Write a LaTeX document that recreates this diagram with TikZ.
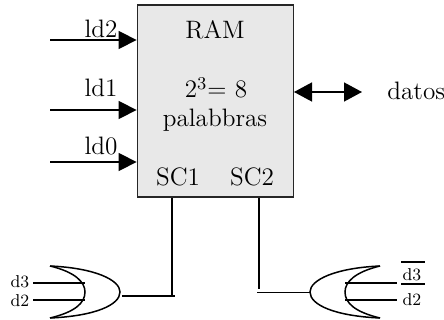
\documentclass[tikz,border=0pt]{standalone}
\usetikzlibrary{arrows.meta}

\begin{document}
\begin{tikzpicture}[
  x=0.5pt, y=-0.5pt,
  lbl/.style={font=\fontsize{12.6}{14}\selectfont, anchor=base, inner sep=0pt},
  sml/.style={font=\fontsize{8.6}{10}\selectfont, anchor=base, inner sep=0pt},
  ram/.style={draw=black!85, fill=black!9, line width=0.7pt, minimum width=78pt, minimum height=96pt, inner sep=0pt},
  inh/.style={-{Triangle[length=9pt,width=9pt]}, line width=0.7pt},
  bus/.style={{Triangle[length=9pt,width=9.5pt]}-{Triangle[length=9pt,width=9.5pt]}, line width=0.7pt},
  wire/.style={-, line width=0.7pt},
  gate/.style={line width=0.75pt},
]
\useasboundingbox (0,0) rectangle (444,320);

% RAM block
\node[ram] (mem) at (215.3,101) {};
\node[lbl] (title) at (215,39) {RAM};
\node[lbl] (size) at (216,98) {2$^3$= 8};
\node[lbl] (words) at (215,127) {palabbras};
\node[lbl] (sc1) at (178,186) {SC1};
\node[lbl] (sc2) at (252,186) {SC2};

% Address lines
\node[lbl] (ld2) at (101,38) {ld2};
\node[lbl] (ld1) at (101,97) {ld1};
\node[lbl] (ld0) at (101,155) {ld0};
\coordinate (in2) at (50,40);
\coordinate (in1) at (50,110);
\coordinate (in0) at (50,162);
\foreach \n in {in2,in1,in0}
  \draw[inh] (\n) -- (\n -| mem.west);

% Data bus
\node[lbl, anchor=base west] (datos) at (387,100) {datos};
\coordinate (busend) at (362,92);
\draw[bus] (busend -| mem.east) -- (busend);

% Left gate
\draw[gate] (50,266) .. controls (95,268) and (120,280) .. (120,292)
  .. controls (120,305) and (95,316) .. (50,318);
\draw[gate] (50,266) .. controls (75,272) and (85,282) .. (85,292)
  .. controls (85,303) and (75,312) .. (50,318);
\coordinate (lout) at (122,296);
\coordinate (lend) at (175,296);
\coordinate (la) at (85,283);
\coordinate (lb) at (85,300);
\node[sml] (d3l) at (20,287) {d3};
\node[sml] (d2l) at (20,306) {d2};
\coordinate (lc) at (33,283);
\coordinate (ld) at (33,300);
\draw[wire] (lc) -- (la);
\draw[wire] (ld) -- (lb);

% Right gate
\draw[gate] (380,266) .. controls (335,268) and (310,280) .. (310,292)
  .. controls (310,305) and (335,316) .. (380,318);
\draw[gate] (380,266) .. controls (355,272) and (345,282) .. (345,292)
  .. controls (345,303) and (355,312) .. (380,318);
\coordinate (rout) at (311,292.5);
\coordinate (rend) at (257,292.5);
\coordinate (ra) at (345,283);
\coordinate (rb) at (345,300);
\node[sml] (d3r) at (412,280) {d3};
\node[sml] (d2r) at (412,305) {d2};
\coordinate (rc) at (397,283);
\coordinate (rd) at (397,300);
\draw[wire] (ra) -- (rc);
\draw[wire] (rb) -- (rd);
\coordinate (top1) at (401,262);
\coordinate (top2) at (425,262);
\coordinate (und1) at (401,284);
\coordinate (und2) at (425,284);
\draw[wire] (top1) -- (top2);
\draw[wire] (und1) -- (und2);

% Select lines
\coordinate (s1) at (172,296);
\coordinate (s2) at (259,289);
\draw[wire] (s1 |- mem.south) -- (s1);
\draw[wire] (s2 |- mem.south) -- (s2);
\draw[wire] (lout) -- (lend);
\draw[wire] (rend) -- (rout);

\end{tikzpicture}
\end{document}
